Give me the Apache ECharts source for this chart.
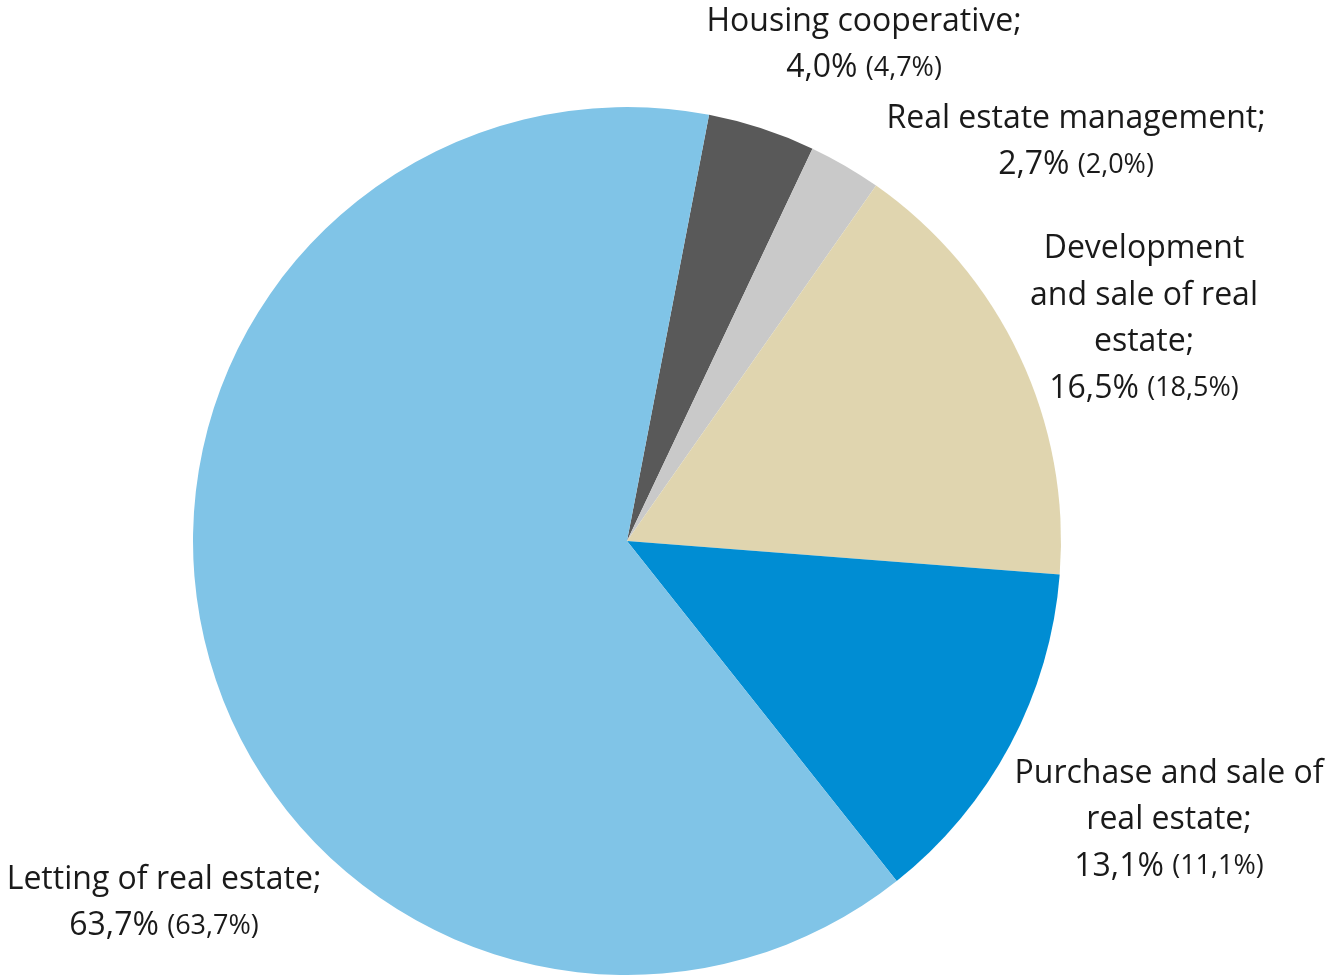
<!DOCTYPE html>
<html>
<head>
<meta charset="utf-8">
<script src="https://cdn.jsdelivr.net/npm/echarts@6/dist/echarts.min.js"></script>
<style>
  html, body { margin: 0; padding: 0; background: #ffffff; }
  #chart { width: 1326px; height: 975px; }
</style>
</head>
<body>
<div id="chart"></div>
<script>
// Share of turnover by real estate activity, current year and (previous year)
const categories = [
  'Housing cooperative',
  'Real estate management',
  'Development\nand sale of real\nestate',
  'Purchase and sale of\nreal estate',
  'Letting of real estate'
];
const shares = [4.0, 2.7, 16.5, 13.1, 63.7];
const previousShares = [4.7, 2.0, 18.5, 11.1, 63.7];
const colors = ['#595959', '#c9c9c9', '#e0d5af', '#008dd3', '#80c4e7'];

// Label block centres (px) for each slice
const labelSpots = [
  [864, 45],
  [1076, 142],
  [1144, 319],
  [1169, 820],
  [164, 903]
];

const fmt = v => v.toFixed(1).replace('.', ',') + '%';

const chart = echarts.init(document.getElementById('chart'));
chart.setOption({
  backgroundColor: '#ffffff',
  animation: false,
  series: [{
    type: 'pie',
    center: [627, 541],
    radius: 434,
    startAngle: 79.1,
    clockwise: true,
    avoidLabelOverlap: false,
    labelLine: { show: false },
    itemStyle: { borderWidth: 0 },
    label: {
      show: true,
      position: 'outside',
      color: '#1a1a1a',
      fontFamily: 'Open Sans',
      fontSize: 32,
      lineHeight: 46.5,
      align: 'center',
      formatter: p => {
        const i = p.dataIndex;
        return categories[i] + ';\n' + fmt(shares[i]) + ' {s|(' + fmt(previousShares[i]) + ')}';
      },
      rich: {
        s: { fontFamily: 'Open Sans', fontSize: 27, lineHeight: 46.5, color: '#1a1a1a' }
      }
    },
    labelLayout: params => {
      const spot = labelSpots[params.dataIndex];
      return { x: spot[0], y: spot[1], align: 'center', verticalAlign: 'middle' };
    },
    data: shares.map((v, i) => ({
      name: categories[i],
      value: v,
      itemStyle: { color: colors[i] }
    }))
  }]
});
</script>
</body>
</html>
